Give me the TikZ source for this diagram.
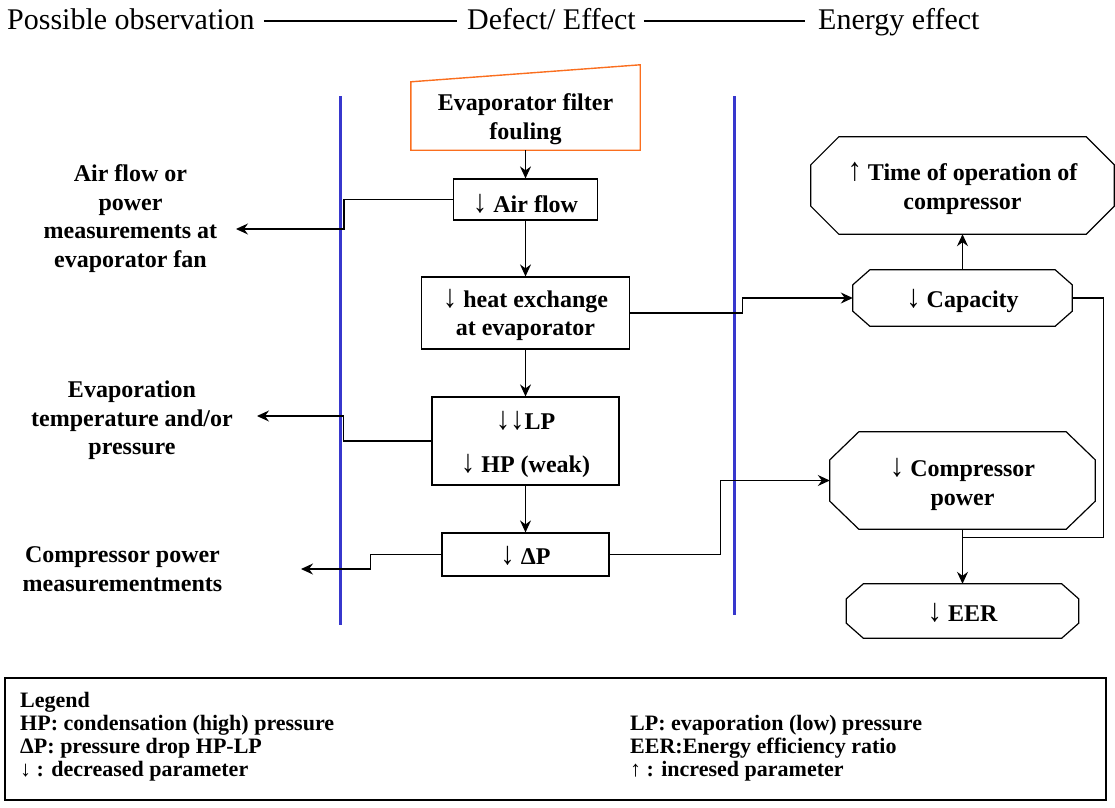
\documentclass[tikz,border=0pt]{standalone}
\usepackage{fontspec}
\setmainfont{Liberation Serif}
\usetikzlibrary{arrows.meta,calc}
\definecolor{vblue}{RGB}{55,55,205}
\definecolor{forange}{RGB}{250,110,30}
\newcommand\arrdown{\scalebox{1.2}[1.35]{↓}}
\newcommand\arrup{\scalebox{1.2}[1.35]{↑}}
\newcommand\octagonbox[3]{%
  \draw[shapeline] ($(#1.north west)+(#2,0)$) -- ($(#1.north east)+(-#2,0)$) -- ($(#1.north east)+(0,#3)$) -- ($(#1.south east)+(0,-#3)$) -- ($(#1.south east)+(-#2,0)$) -- ($(#1.south west)+(#2,0)$) -- ($(#1.south west)+(0,-#3)$) -- ($(#1.north west)+(0,#3)$) -- cycle;}
\tikzset{
  shapeline/.style={line width=1.2pt, black},
  area/.style={inner sep=0pt},
  rectbox/.style={area, draw, line width=1.2pt},
  boxtext/.style={font=\bfseries\fontsize{24}{28.5}\selectfont, align=center, inner sep=0pt},
  headtext/.style={font=\fontsize{30}{32}\selectfont, inner sep=0pt, text height=0.66em, text depth=0pt, anchor=west},
  headline/.style={line width=2pt},
  conn/.style={line width=1.2pt, black},
  arr/.style={conn, -{Stealth[length=12pt,width=11pt,inset=4pt]}},
  divider/.style={line width=3pt, vblue},
  legtext/.style={font=\bfseries\fontsize{22}{23}\selectfont, align=left, inner sep=0pt, anchor=west}
}
\begin{document}
\begin{tikzpicture}[x=1pt,y=-1pt]
\useasboundingbox (0,0) rectangle (1115,807);
% header
\node[headtext] (h1) at (7,26) {Possible observation};
\node[headtext] (h2) at (467,26) {Defect/ Effect};
\node[headtext] (h3) at (818,26) {Energy effect};
\draw[headline] ([xshift=9pt,yshift=5pt]h1.east) -- ([xshift=-10pt,yshift=5pt]h2.west);
\draw[headline] ([xshift=8pt,yshift=5pt]h2.east) -- ([xshift=-13pt,yshift=5pt]h3.west);
% dividers
\draw[divider] (340,96) -- (340,625);
\draw[divider] (734,96) -- (734,615);
% central chain
\node[area, minimum width=229, minimum height=68] (fault) at (525.5,116) {};
\draw[line width=1.4pt, forange] (fault.south west) -- (fault.north west) -- ($(fault.north east)+(0,-17)$) -- (fault.south east) -- cycle;
\node[boxtext] (fault-t) at ([yshift=-3pt]fault.center) {Evaporator filter\\fouling};
\node[rectbox, minimum width=144, minimum height=41] (air) at (525.5,199.5) {};
\node[boxtext] (air-t) at ([yshift=-4pt]air.center) {\arrdown\ Air flow};
\node[rectbox, minimum width=208, minimum height=72] (heat) at (525.5,313) {};
\node[boxtext] (heat-t) at ([yshift=-2pt]heat.center) {\arrdown\ heat exchange\\at evaporator};
\node[rectbox, minimum width=187, minimum height=88] (lphp) at (525.5,441) {};
\node[boxtext] (lphp-t) at ([yshift=-3.5pt]lphp.center) {\arrdown\arrdown LP\\[14pt]\arrdown\ HP (weak)};
\node[rectbox, minimum width=167, minimum height=43] (dp) at (525.5,554.5) {};
\node[boxtext] (dp-t) at ([yshift=-1pt]dp.center) {\arrdown\ ΔP};
% energy effects
\node[area, minimum width=303, minimum height=97] (time) at (962.5,185.5) {};
\octagonbox{time}{28}{28}
\node[boxtext] (time-t) at ([yshift=-3pt]time.center) {\arrup\ Time of operation of\\compressor};
\node[area, minimum width=219, minimum height=56] (cap) at (962.5,298) {};
\octagonbox{cap}{17}{15}
\node[boxtext] (cap-t) at ([yshift=-3pt]cap.center) {\arrdown\ Capacity};
\node[area, minimum width=265, minimum height=97] (comp) at (962.5,480.5) {};
\octagonbox{comp}{29}{28}
\node[boxtext] (comp-t) at ([yshift=-4pt]comp.center) {\arrdown\ Compressor\\power};
\node[area, minimum width=232, minimum height=54] (eer) at (962.5,611) {};
\octagonbox{eer}{17}{15}
\node[boxtext] (eer-t) at ([yshift=-2pt]eer.center) {\arrdown\ EER};
% observations
\node[boxtext] (obs1) at (130.5,218.5) {Air flow or\\power\\measurements at\\evaporator fan};
\node[boxtext] (obs2) at (132,420.5) {Evaporation\\temperature and/or\\pressure};
\node[boxtext] (obs3) at (122.5,569) {Compressor power\\measurementments};
\coordinate (t1) at (236,229);
\coordinate (t2) at (257,416);
\coordinate (t3) at (301,569);
\coordinate (j) at ($(comp.south)+(0,8)$);
% connectors
\draw[arr] (fault.south) -- (air.north);
\draw[arr] (air.south) -- (heat.north);
\draw[arr] (heat.south) -- (lphp.north);
\draw[arr] (lphp.south) -- (dp.north);
\draw[arr] (air.west) -- ++(-109,0) |- (t1);
\draw[arr] (lphp.west) -- ++(-88,0) |- (t2);
\draw[arr] (dp.west) -- ++(-71,0) |- (t3);
\draw[arr] (heat.east) -- ++(112,0) |- (cap.west);
\draw[arr] (dp.east) -- ++(111,0) |- (comp.west);
\draw[arr] (cap.north) -- (time.south);
\draw[arr] (comp.south) -- (eer.north);
\draw[conn] (cap.east) -- ++(31,0) |- (j);
% legend
\node[rectbox, minimum width=1101, minimum height=122] (legend) at (555.5,739) {};
\node[legtext] (legl) at (20,736.5) {Legend\\HP: condensation (high) pressure\\ΔP: pressure drop HP-LP\\↓ : decreased parameter};
\node[legtext] (legr) at (630,748) {LP: evaporation (low) pressure\\EER:Energy efficiency ratio\\↑ : incresed parameter};
\end{tikzpicture}
\end{document}
